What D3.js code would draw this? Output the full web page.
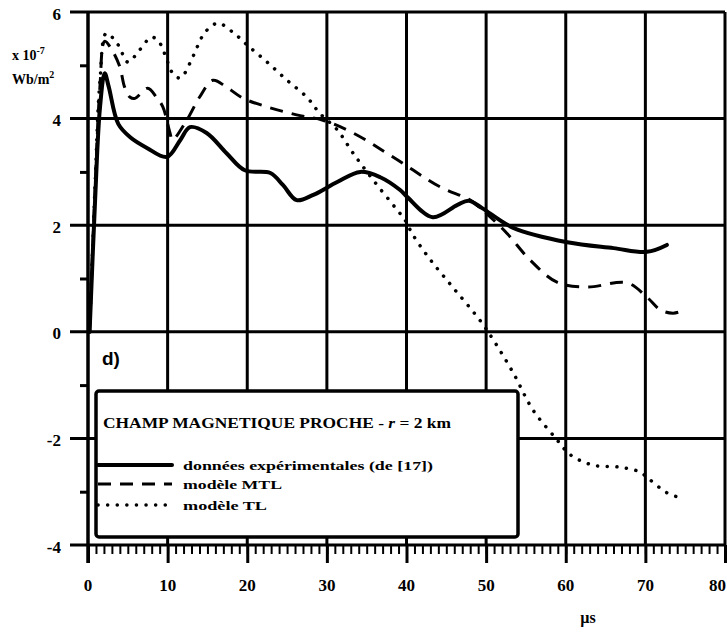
<!DOCTYPE html>
<html>
<head>
<meta charset="utf-8">
<script src="https://cdn.jsdelivr.net/npm/d3@7"></script>
<style>
  body { margin: 0; background: #fff; }
  svg { display: block; }
  text { font-family: "Liberation Serif", "DejaVu Serif", serif; font-weight: bold; fill: #000; }
</style>
</head>
<body>
<div id="chart"></div>
<script>
// données expérimentales (de [17])
const expT = [0.2, 0.9, 1.5, 2.1, 2.6, 3.8, 5.3, 7.4, 9.9, 11.6, 12.8, 14.9, 17.4, 19.7, 22.9, 24.5, 26.2, 28.3, 31.3, 34.2, 36.7, 39.2, 40.1, 43.3, 46.4, 47.8, 49.5, 53.4, 60.2, 66, 70.2, 72.7];
const expV = [0.0, 2.5, 4.2, 4.85, 4.6, 3.9, 3.65, 3.45, 3.28, 3.6, 3.84, 3.73, 3.35, 3.03, 2.98, 2.75, 2.47, 2.57, 2.81, 3.0, 2.9, 2.66, 2.53, 2.15, 2.38, 2.46, 2.32, 1.95, 1.68, 1.57, 1.5, 1.63];

// modèle MTL
const mtlT = [0.2, 0.9, 1.5, 2.1, 3, 4, 4.6, 5.3, 5.9, 7.5, 8.6, 9.4, 10.3, 10.6, 12.4, 14, 15.7, 17.4, 19.5, 22.5, 26.2, 29.5, 33.3, 38.3, 44.2, 48, 49.6, 52.6, 55.5, 58.9, 62.7, 67.7, 70.2, 71.9, 73.5, 75];
const mtlV = [0.0, 2.7, 4.6, 5.45, 5.29, 4.97, 4.59, 4.4, 4.38, 4.57, 4.4, 4.22, 3.73, 3.6, 3.97, 4.4, 4.72, 4.59, 4.38, 4.22, 4.07, 3.97, 3.73, 3.28, 2.72, 2.47, 2.28, 1.85, 1.35, 0.93, 0.84, 0.92, 0.65, 0.41, 0.35, 0.41];

// modèle TL
const tlT = [0.2, 0.9, 1.5, 2.3, 3.8, 5, 6.5, 8, 9, 9.7, 10.6, 11.6, 12.8, 13.7, 14.7, 16.3, 18.2, 20, 22.5, 25, 27.5, 29.1, 31.3, 33.3, 35.8, 38.8, 39.8, 40.8, 43, 45.9, 49.2, 50.9, 53.4, 55.9, 58.7, 60.6, 63.4, 66.8, 69.3, 70.6, 72.7, 74.1];
const tlV = [0.0, 2.8, 4.7, 5.6, 5.38, 5.06, 5.29, 5.53, 5.42, 5.19, 4.86, 4.76, 5.04, 5.34, 5.62, 5.79, 5.62, 5.38, 5.06, 4.72, 4.4, 4.1, 3.79, 3.35, 2.85, 2.29, 2.1, 1.82, 1.35, 0.82, 0.22, -0.15, -0.77, -1.47, -1.99, -2.31, -2.5, -2.54, -2.63, -2.78, -3.02, -3.1];

const xMajor = [0, 10, 20, 30, 40, 50, 60, 70, 80];
const yMajor = [6, 4, 2, 0, -2, -4];
const yMinor = [5, 3, 1, -1, -3];
const legendLabels = ["données expérimentales (de [17])", "modèle MTL", "modèle TL"];

const W = 727, H = 633;
const svg = d3.select("#chart").append("svg").attr("width", W).attr("height", H);

const x = d3.scaleLinear().domain([0, 80]).range([88, 725]);
const y = d3.scaleLinear().domain([-4, 6]).range([545, 12]);

// grid
svg.append("g").selectAll("line").data(xMajor.slice(1)).join("line")
  .attr("x1", d => x(d)).attr("x2", d => x(d))
  .attr("y1", y(6)).attr("y2", y(-4))
  .attr("stroke", "#000").attr("stroke-width", 3);
svg.append("g").selectAll("line").data(yMajor).join("line")
  .attr("x1", 70).attr("x2", x(80))
  .attr("y1", d => y(d)).attr("y2", d => y(d))
  .attr("stroke", "#000").attr("stroke-width", 3);

// left axis with minor ticks
const yAx = svg.append("g").attr("transform", `translate(${x(0)},0)`)
  .call(d3.axisLeft(y).tickValues(yMinor).tickSize(8).tickFormat(""));
yAx.select(".domain").remove();
yAx.selectAll("line").attr("stroke-width", 3);
svg.append("line").attr("x1", x(0)).attr("x2", x(0)).attr("y1", y(6) - 1).attr("y2", 563)
  .attr("stroke", "#000").attr("stroke-width", 3.5);

// bottom ticks
const xMin = svg.append("g").attr("transform", `translate(0,${y(-4)})`)
  .call(d3.axisBottom(x).tickValues(d3.range(0, 81)).tickSize(9).tickFormat(""));
xMin.select(".domain").remove();
xMin.selectAll("line").attr("stroke-width", 2);
const xMaj = svg.append("g").attr("transform", `translate(0,${y(-4)})`)
  .call(d3.axisBottom(x).tickValues(xMajor).tickSize(18).tickFormat(""));
xMaj.select(".domain").remove();
xMaj.selectAll("line").attr("stroke-width", 3);

// tick labels (last one kept inside the frame)
svg.append("g").selectAll("text").data(xMajor).join("text")
  .attr("x", d => d === 80 ? W - 1 : x(d)).attr("y", 585)
  .attr("text-anchor", d => d === 80 ? "end" : "middle").attr("dominant-baseline", "central")
  .style("font-size", "17px").text(d => d);
svg.append("g").selectAll("text").data(yMajor).join("text")
  .attr("x", 61).attr("y", d => y(d) + 2)
  .attr("text-anchor", "end").attr("dominant-baseline", "central")
  .style("font-size", "17px").text(d => d);

// unit labels
const u = svg.append("text").attr("x", 12).attr("y", 60).style("font-size", "14px");
u.append("tspan").text("x 10");
u.append("tspan").attr("dy", -6).style("font-size", "10px").text("-7");
const w = svg.append("text").attr("x", 12).attr("y", 84).style("font-size", "14px");
w.append("tspan").text("Wb/m");
w.append("tspan").attr("dy", -6).style("font-size", "10px").text("2");

svg.append("text").attr("x", 588).attr("y", 617).attr("text-anchor", "middle")
  .attr("dominant-baseline", "central").style("font-size", "16px").text("µs");

svg.append("text").attr("x", 102).attr("y", 365)
  .style("font-family", "'Liberation Sans', sans-serif").style("font-size", "19px").text("d)");

// curves
const line = d3.line().x(d => x(d[0])).y(d => y(d[1])).curve(d3.curveCatmullRom);
const series = [
  { t: expT, v: expV, w: 4, dash: null, cap: "round" },
  { t: mtlT, v: mtlV, w: 3, dash: "13 9", cap: "butt" },
  { t: tlT, v: tlV, w: 3.5, dash: "0.1 9.5", cap: "round" }
];
series.forEach(s => {
  svg.append("path").datum(d3.zip(s.t, s.v))
    .attr("d", line).attr("fill", "none").attr("stroke", "#000")
    .attr("stroke-width", s.w).attr("stroke-dasharray", s.dash)
    .attr("stroke-linecap", s.cap).attr("stroke-linejoin", "round");
});

// legend box
const lg = svg.append("g");
lg.append("rect").attr("x", 96).attr("y", 391).attr("width", 422).attr("height", 146)
  .attr("rx", 3).attr("fill", "#fff").attr("stroke", "#000").attr("stroke-width", 3.5);
const title = lg.append("text").attr("x", 103).attr("y", 428).style("font-size", "14px")
  .attr("textLength", 348).attr("lengthAdjust", "spacingAndGlyphs");
title.append("tspan").text("CHAMP MAGNETIQUE PROCHE - ");
title.append("tspan").style("font-style", "italic").text("r");
title.append("tspan").text(" = 2 km");

const rowY = [465, 484, 505];
const rowLen = [250, 99, 84];
series.forEach((s, i) => {
  lg.append("line").attr("x1", 98).attr("x2", 172).attr("y1", rowY[i]).attr("y2", rowY[i])
    .attr("stroke", "#000").attr("stroke-width", s.w).attr("stroke-dasharray", s.dash)
    .attr("stroke-linecap", s.cap);
  lg.append("text").attr("x", 183).attr("y", rowY[i]).attr("dominant-baseline", "central")
    .style("font-size", "13px").attr("textLength", rowLen[i]).attr("lengthAdjust", "spacingAndGlyphs")
    .text(legendLabels[i]);
});
</script>
</body>
</html>
